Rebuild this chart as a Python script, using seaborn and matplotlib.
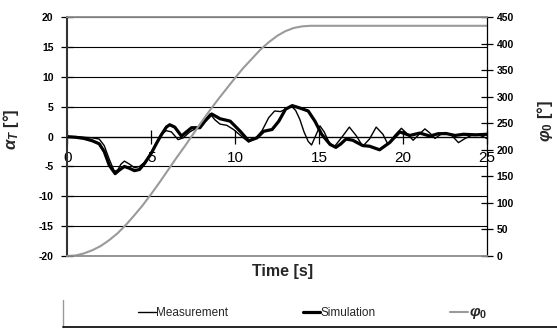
import matplotlib
matplotlib.use("Agg")
import matplotlib.pyplot as plt
import seaborn as sns
from matplotlib.lines import Line2D

# Angle of the towed body alpha_T [deg] over time [s]
time_meas = [0.0, 0.5, 1.0, 1.5, 1.9, 2.2, 2.5, 2.8, 3.0, 3.2, 3.4, 3.7, 4.0, 4.3, 4.6,
             5.0, 5.3, 5.6, 5.9, 6.2, 6.6, 6.9, 7.3, 7.8, 8.2, 8.5, 8.8, 9.1, 9.5, 9.9,
             10.4, 10.8, 11.2, 11.6, 12.0, 12.35, 12.7, 13.0, 13.35, 13.6, 13.85, 14.1,
             14.35, 14.55, 14.8, 15.05, 15.3, 15.6, 15.9, 16.3, 16.8, 17.2, 17.6, 18.0,
             18.4, 18.8, 19.1, 19.5, 19.9, 20.2, 20.6, 21.0, 21.3, 21.6, 21.9, 22.2,
             22.5, 22.9, 23.3, 23.7, 24.2, 24.6, 25.0]
alpha_meas = [0.0, 0.0, -0.1, -0.2, -0.4, -1.5, -3.8, -5.8, -5.6, -4.6, -4.1, -4.6, -5.2,
              -5.0, -4.3, -2.6, -1.0, 0.4, 1.0, 0.8, -0.5, -0.2, 0.8, 1.6, 2.8, 3.8, 2.8,
              2.1, 1.9, 1.2, 0.0, -0.9, -0.3, 1.0, 3.2, 4.3, 4.2, 4.6, 5.1, 4.4, 2.9, 0.8,
              -0.8, -1.4, 0.2, 1.8, 0.8, -1.0, -1.7, -0.3, 1.6, 0.2, -1.6, -0.4, 1.6, 0.4,
              -1.3, 0.2, 1.4, 0.6, -0.6, 0.5, 1.3, 0.6, -0.3, 0.3, 0.7, 0.2, -1.0, -0.3,
              0.4, 0.2, -0.3]

time_sim = [0.0, 0.5, 1.0, 1.5, 1.9, 2.2, 2.5, 2.85, 3.1, 3.4, 3.7, 4.0, 4.3, 4.6, 5.0,
            5.3, 5.6, 5.9, 6.1, 6.4, 6.8, 7.1, 7.4, 7.9, 8.2, 8.6, 9.1, 9.7, 10.3, 10.8,
            11.3, 11.7, 12.2, 12.6, 13.0, 13.4, 13.85, 14.35, 14.75, 15.15, 15.65, 16.0,
            16.3, 16.6, 17.0, 17.6, 18.0, 18.6, 19.2, 19.8, 20.4, 21.0, 21.6, 22.1, 22.6,
            23.1, 23.6, 24.3, 25.0]
alpha_sim = [0.0, -0.1, -0.3, -0.7, -1.2, -2.5, -4.8, -6.2, -5.6, -5.0, -5.3, -5.7, -5.5,
             -4.5, -2.8, -1.2, 0.3, 1.6, 2.0, 1.6, 0.1, 0.8, 1.5, 1.5, 2.6, 3.8, 3.0, 2.6,
             0.9, -0.7, -0.2, 0.9, 1.2, 2.6, 4.6, 5.2, 4.8, 4.3, 2.6, 0.4, -1.3, -1.8,
             -1.2, -0.4, -0.6, -1.5, -1.6, -2.2, -1.0, 0.8, 0.2, 0.6, 0.1, 0.5, 0.5, 0.2,
             0.4, 0.3, 0.4]

# Heading angle phi_0 [deg] over time [s]
time_phi = [0.0, 0.5, 1.0, 1.5, 2.0, 2.5, 3.0, 3.5, 4.0, 4.5, 5.0, 5.5, 6.0, 6.5, 7.0,
            7.5, 8.0, 8.5, 9.0, 9.5, 10.0, 10.5, 11.0, 11.5, 12.0, 12.5, 13.0, 13.5,
            14.0, 14.5, 15.0, 20.0, 25.0]
phi0 = [0, 1, 5, 11, 19, 30, 43, 59, 77, 96, 117, 139, 162, 185, 207, 230, 253, 275,
        296, 316, 336, 355, 372, 389, 403, 415, 424, 430, 433, 434, 434, 434, 434]

time_ticks = [0, 5, 10, 15, 20, 25]
alpha_ticks = [-20, -15, -10, -5, 0, 5, 10, 15, 20]
phi_ticks = [0, 50, 100, 150, 200, 250, 300, 350, 400, 450]

sns.set_theme(style="white")
plt.rcParams["font.family"] = ["Liberation Sans", "DejaVu Sans"]
plt.rcParams.update({
    "mathtext.fontset": "custom",
    "mathtext.it": "Liberation Sans:bold:italic",
    "mathtext.rm": "Liberation Sans:bold",
    "mathtext.bf": "Liberation Sans:bold",
})

W, H = 557, 329
fig = plt.figure(figsize=(W / 100, H / 100), dpi=100)
ax = fig.add_axes([67.3 / W, 1 - 256 / H, (487 - 67.3) / W, (256 - 17.3) / H])
tw = ax.twinx()

sns.lineplot(x=time_meas, y=alpha_meas, ax=ax, color="black", linewidth=1.0)
sns.lineplot(x=time_sim, y=alpha_sim, ax=ax, color="black", linewidth=2.3)
sns.lineplot(x=time_phi, y=phi0, ax=tw, color="#9a9a9a", linewidth=1.5)

ax.set_xlim(0, 25)
ax.set_ylim(-20, 20)
tw.set_ylim(0, 450)

ax.set_xticks(time_ticks, labels=[str(v) for v in time_ticks],
              fontsize=9.5, fontweight="bold")
ax.set_yticks(alpha_ticks, labels=[str(v) for v in alpha_ticks],
              fontsize=7.5, fontweight="bold")
tw.set_yticks(phi_ticks, labels=[str(v) for v in phi_ticks],
              fontsize=7.5, fontweight="bold")

ax.grid(axis="y", color="black", linewidth=0.8)
ax.grid(axis="x", visible=False)
tw.grid(False)

ax.tick_params(axis="x", direction="inout", length=10, width=0.9, pad=5,
               bottom=True, colors="black")
ax.tick_params(axis="y", direction="inout", length=8, width=0.9, pad=6,
               left=True, colors="black")
tw.tick_params(axis="y", direction="inout", length=9, width=0.9, pad=2.5,
               right=True, colors="black")

# x axis crosses at alpha_T = 0
ax.spines["bottom"].set_position(("data", 0))
ax.spines["bottom"].set_color("black")
ax.spines["bottom"].set_linewidth(0.9)
ax.spines["left"].set_color("#333333")
ax.spines["left"].set_linewidth(1.5)
ax.spines["top"].set_visible(False)
ax.spines["right"].set_visible(False)
tw.spines["left"].set_visible(False)
tw.spines["right"].set_color("black")
tw.spines["right"].set_linewidth(0.9)
for side in ("top", "bottom"):
    tw.spines[side].set_color("#8c8c8c")
    tw.spines[side].set_linewidth(1.3)

ax.set_xlabel("Time [s]", fontsize=11.5, fontweight="bold")
ax.xaxis.set_label_coords(0.512, -0.035)
ax.set_ylabel(r"$\alpha_T$ [°]", fontsize=12, fontweight="bold")
ax.yaxis.set_label_coords(-0.11, 0.53)
tw.set_ylabel(r"$\varphi_0$ [°]", fontsize=12, fontweight="bold")
tw.yaxis.set_label_coords(1.115, 0.566)

# legend strip below the chart
fig.add_artist(Line2D([63 / W, 63 / W], [1 - 300 / H, 1 - 327 / H],
                      transform=fig.transFigure, color="#999999", linewidth=1))
fig.add_artist(Line2D([63 / W, 1.0], [1 - 327 / H, 1 - 327 / H],
                      transform=fig.transFigure, color="black", linewidth=1.2))

handles = [ax.get_lines()[0], ax.get_lines()[1], tw.get_lines()[0]]
leg = fig.legend(handles=handles,
                 labels=["Measurement", "Simulation", r"$\varphi_0$"],
                 loc="center", bbox_to_anchor=(312.5 / W, 1 - 313 / H),
                 ncol=3, frameon=False, fontsize=8.5, handlelength=1.5,
                 handletextpad=0.05, columnspacing=6.3)
leg.get_texts()[2].set_fontsize(11)

fig.savefig("out.png", dpi=100)
